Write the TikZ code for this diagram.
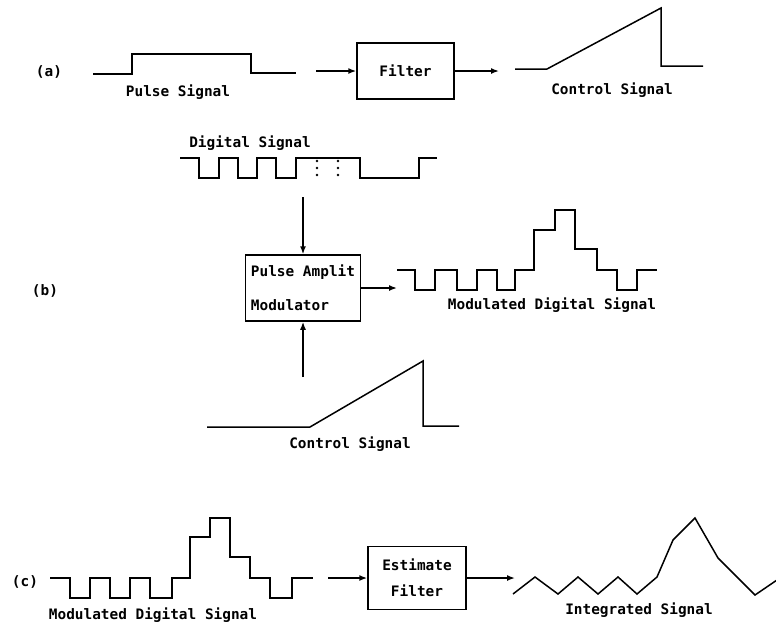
\documentclass[tikz,border=0pt]{standalone}
\usepackage{fontspec}
\setmonofont{DejaVu Sans Mono}
\usetikzlibrary{positioning, arrows.meta}

\tikzset{
  sig/.style={line width=1.5pt, line join=miter},
  sigbox/.style={draw, rectangle, line width=1.5pt, inner sep=4pt},
  sigarrow/.style={line width=1.5pt, -{Latex[length=8pt,width=6pt]}},
  lbl/.style={inner sep=0pt},
}

\begin{document}
\begin{tikzpicture}[x=1pt, y=-1pt, font=\ttfamily\bfseries\fontsize{14.4}{16}\selectfont]
    \useasboundingbox (0,0) rectangle (776,622);
    % Koordinaten in Pixeln, y nach unten

    % --- (a) PULS -> FILTER ---
    \begin{scope}
        \node[lbl] (a-tag) at (49,72) {(a)};
        \draw[sig] (93,74) -- (132,74) -- (132,54) -- (251,54) -- (251,73) -- (296,73);
        \node[lbl] (a-pulse) at (178,92) {Pulse Signal};

        \node[sigbox, minimum width=97pt, minimum height=56pt] (filter) at (405.5,71) {Filter};
        \coordinate (a-in) at (316,71);
        \coordinate (a-out) at (499,71);
        \draw[sigarrow] (a-in) -- (filter);
        \draw[sigarrow] (filter) -- (a-out);

        \draw[sig] (515,69) -- (547,69) -- (661,8) -- (661,66) -- (703,66);
        \node[lbl] (a-ctrl) at (612,90) {Control Signal};
    \end{scope}

    % --- (b) PULSAMPLITUDENMODULATOR ---
    \begin{scope}
        \node[lbl] (b-tag) at (45,291) {(b)};

        % digitales Eingangssignal
        \node[lbl] (b-dig) at (250,143) {Digital Signal};
        \draw[sig] (180,158) -- (199,158) -- (199,178) -- (219,178) -- (219,158) -- (238,158)
            -- (238,178) -- (257,178) -- (257,158) -- (276,158) -- (276,178) -- (296,178)
            -- (296,158) -- (360,158) -- (360,178) -- (419,178) -- (419,158) -- (437,158);
        \foreach \x in {317,338}
            \foreach \y in {161,168,175}
                \fill (\x,\y) circle (1.4);

        \node[sigbox, minimum width=115pt, minimum height=66pt, inner xsep=5pt,
              align=left, font=\ttfamily\bfseries\fontsize{14.4}{34}\selectfont] (pam) at (303,288)
              {Pulse Amplit\\Modulator\hphantom{mmm}};
        \coordinate (b-in) at (303,197);
        \coordinate (b-ctl) at (303,377);
        \coordinate (b-out) at (397,288);
        \draw[sigarrow] (b-in) -- (pam);
        \draw[sigarrow] (b-ctl) -- (pam);
        \draw[sigarrow] (pam) -- (b-out);

        % moduliertes Signal
        \draw[sig] (397,270) -- (415,270) -- (415,290) -- (435,290) -- (435,270) -- (457,270)
            -- (457,290) -- (477,290) -- (477,270) -- (497,270) -- (497,290) -- (515,290)
            -- (515,270) -- (534,270) -- (534,230) -- (555,230) -- (555,210) -- (575,210)
            -- (575,249) -- (597,249) -- (597,270) -- (617,270) -- (617,290) -- (637,290)
            -- (637,270) -- (657,270);
        \node[lbl] (b-mod) at (552,305) {Modulated Digital Signal};

        % Steuersignal
        \draw[sig] (207,427) -- (310,427) -- (423,361) -- (423,426) -- (459,426);
        \node[lbl] (b-ctrl) at (350,444) {Control Signal};
    \end{scope}

    % --- (c) SCHAETZFILTER ---
    \begin{scope}
        \node[lbl] (c-tag) at (25,582) {(c)};
        \draw[sig] (50,578) -- (70,578) -- (70,598) -- (90,598) -- (90,578) -- (110,578)
            -- (110,598) -- (130,598) -- (130,578) -- (150,578) -- (150,598) -- (172,598)
            -- (172,578) -- (190,578) -- (190,537) -- (210,537) -- (210,518) -- (230,518)
            -- (230,557) -- (250,557) -- (250,578) -- (270,578) -- (270,598) -- (292,598)
            -- (292,578) -- (313,578);
        \node[lbl] (c-mod) at (153,615) {Modulated Digital Signal};

        \node[sigbox, minimum width=98pt, minimum height=63pt, align=center,
              font=\ttfamily\bfseries\fontsize{14.4}{26}\selectfont] (est) at (417,578) {Estimate\\Filter};
        \coordinate (c-in) at (328,578);
        \coordinate (c-out) at (515,578);
        \draw[sigarrow] (c-in) -- (est);
        \draw[sigarrow] (est) -- (c-out);

        \draw[sig] (513,594) -- (535,577) -- (558,594) -- (578,577) -- (598,594) -- (618,577)
            -- (637,594) -- (657,577) -- (673,540) -- (695,518) -- (718,558) -- (755,595) -- (777,580);
        \node[lbl] (c-int) at (639,610) {Integrated Signal};
    \end{scope}

\end{tikzpicture}
\end{document}
